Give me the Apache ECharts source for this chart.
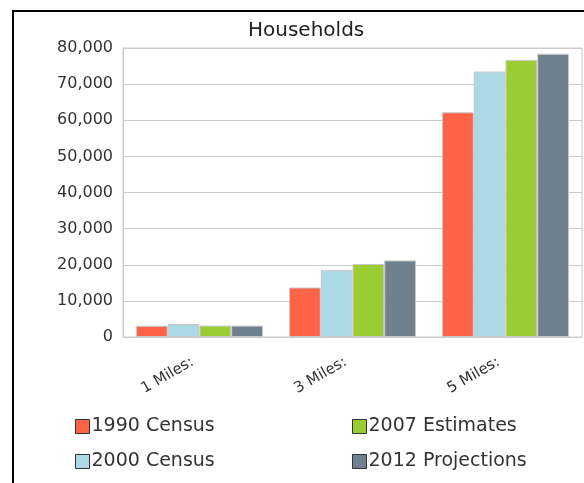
<!DOCTYPE html>
<html>
<head>
<meta charset="utf-8">
<script src="https://cdn.jsdelivr.net/npm/echarts@6/dist/echarts.min.js"></script>
<style>
  html, body { margin: 0; padding: 0; background: #fff; }
  #chart { position: absolute; left: 0; top: 0; width: 584px; height: 483px; }
  #frame { position: absolute; left: 12px; top: 10px; width: 600px; height: 500px;
           border-left: 2px solid #000; border-top: 2px solid #000; pointer-events: none; }
</style>
</head>
<body>
<div id="chart"></div>
<div id="frame"></div>
<script>
// data
const categories = ['1 Miles:', '3 Miles:', '5 Miles:'];
const seriesNames = ['1990 Census', '2000 Census', '2007 Estimates', '2012 Projections'];
const census1990 = [3100, 13700, 62200];
const census2000 = [3600, 18500, 73500];
const estimates2007 = [3150, 20200, 76700];
const projections2012 = [3150, 21200, 78400];
const yTicks = [0, 10000, 20000, 30000, 40000, 50000, 60000, 70000, 80000];

const colors = ['#FF6347', '#ADD8E6', '#9ACD32', '#708090'];
const values = [census1990, census2000, estimates2007, projections2012];

const chart = echarts.init(document.getElementById('chart'));

const legendBase = {
  orient: 'vertical',
  top: 412,
  itemWidth: 14,
  itemHeight: 14,
  itemGap: 16,
  icon: 'rect',
  itemStyle: { borderColor: '#333', borderWidth: 1 },
  textStyle: { fontFamily: 'DejaVu Sans', fontSize: 19, color: '#333', padding: [0, 0, 0, -3] }
};

chart.setOption({
  animation: false,
  title: {
    text: 'Households',
    left: 243,
    top: 16,
    textStyle: { fontFamily: 'DejaVu Sans', fontSize: 20, fontWeight: 'normal', color: '#222' }
  },
  legend: [
    Object.assign({}, legendBase, { left: 70, data: [seriesNames[0], seriesNames[1]] }),
    Object.assign({}, legendBase, { left: 347, data: [seriesNames[2], seriesNames[3]] })
  ],
  grid: {
    left: 123,
    top: 48,
    width: 459,
    height: 289,
    show: true,
    borderColor: '#cccccc',
    borderWidth: 1,
    containLabel: false
  },
  xAxis: {
    type: 'category',
    data: categories,
    axisLine: { lineStyle: { color: '#cccccc' } },
    axisTick: { show: false },
    axisLabel: {
      rotate: 30,
      margin: 20,
      fontFamily: 'DejaVu Sans',
      fontSize: 15,
      color: '#333',
      padding: [0, 8, 0, 0]
    }
  },
  yAxis: {
    type: 'value',
    min: yTicks[0],
    max: yTicks[yTicks.length - 1],
    interval: yTicks[1] - yTicks[0],
    axisLine: { show: true, lineStyle: { color: '#cccccc' } },
    axisTick: { show: false },
    splitLine: { lineStyle: { color: '#cccccc' } },
    axisLabel: {
      margin: 10,
      fontFamily: 'DejaVu Sans',
      fontSize: 16,
      color: '#333',
      formatter: v => v.toLocaleString('en-US')
    }
  },
  series: seriesNames.map((name, i) => ({
    name: name,
    type: 'bar',
    data: values[i],
    barGap: '0%',
    barCategoryGap: '17%',
    itemStyle: { color: colors[i], borderColor: '#c8c8c8', borderWidth: 1 }
  }))
});
</script>
</body>
</html>
